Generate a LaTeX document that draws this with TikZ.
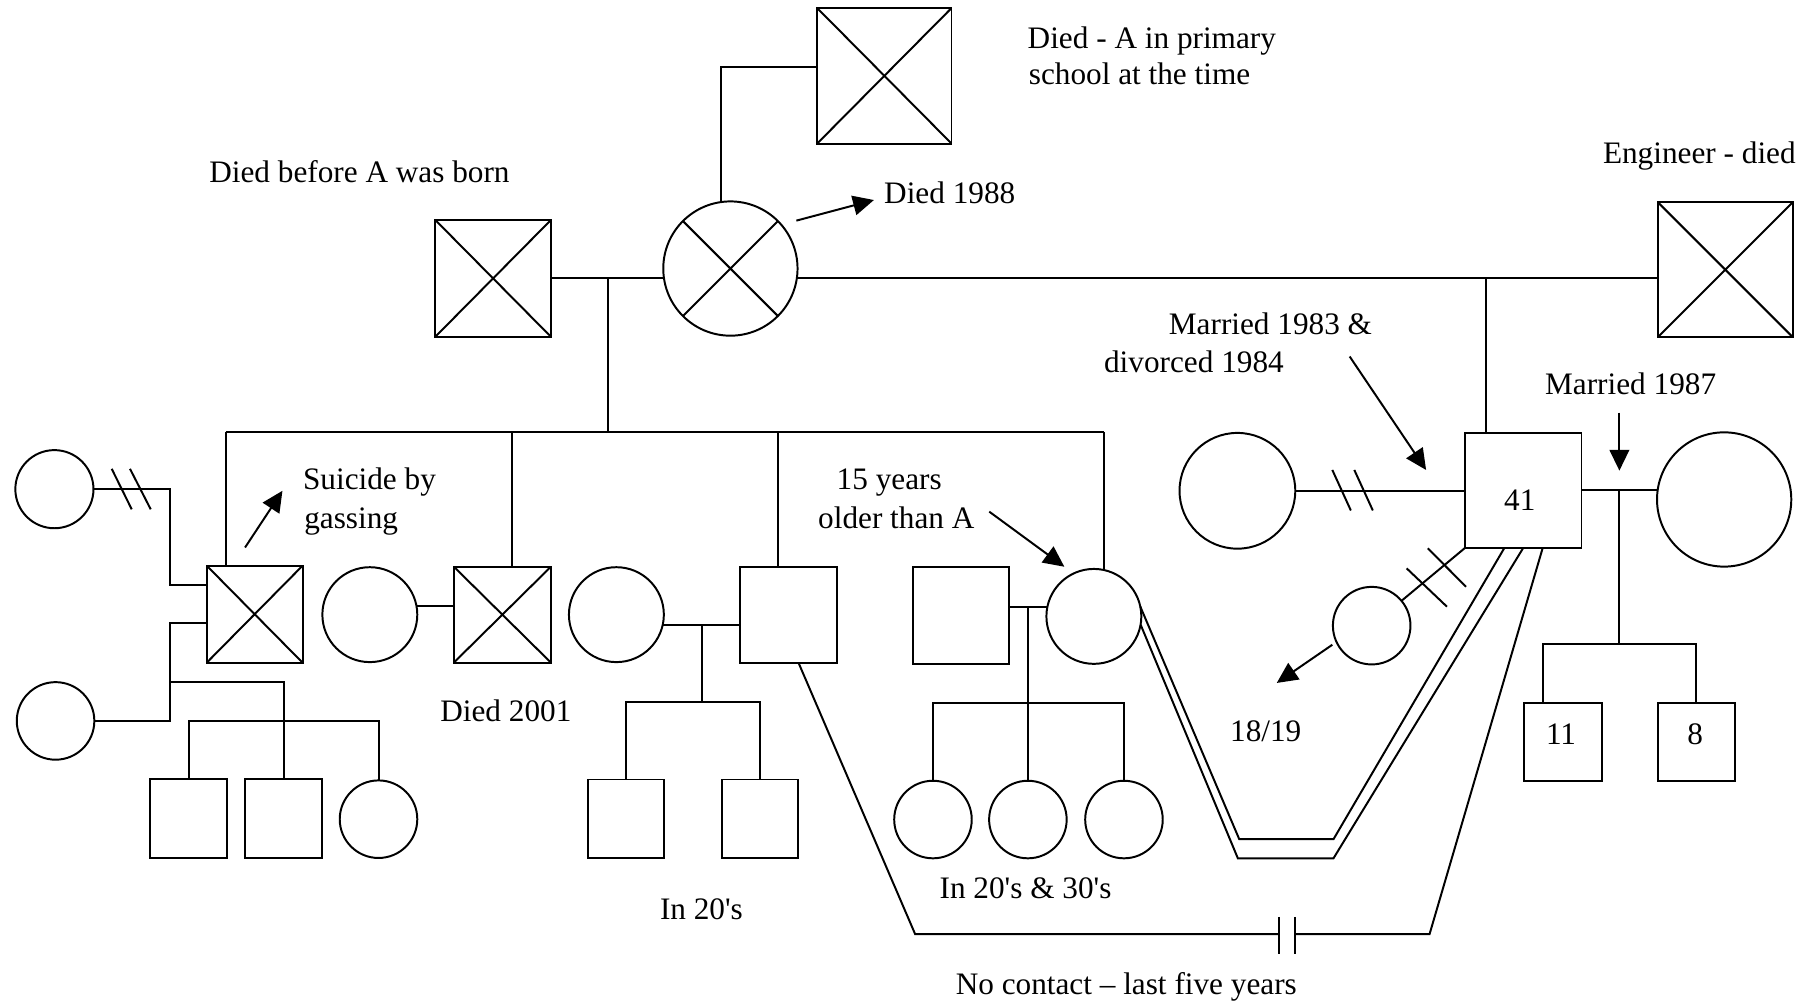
\documentclass[tikz,border=0pt]{standalone}
\usepackage{fontspec}
\newfontfamily\lserif{Liberation Serif}
\usetikzlibrary{calc,arrows.meta}
\begin{document}
\begin{tikzpicture}[x=0.5pt,y=-0.5pt, line width=0.85pt,
  every node/.style={font=\lserif\fontsize{13.5pt}{16pt}\selectfont},
  sq/.style={draw, rectangle, inner sep=0pt, outer sep=0pt},
  crc/.style={draw, circle, inner sep=0pt, outer sep=0pt},
  xed/.style={path picture={\draw (path picture bounding box.south west) -- (path picture bounding box.north east) (path picture bounding box.north west) -- (path picture bounding box.south east);}},
  txt/.style={inner sep=0pt, anchor=base west},
  ctxt/.style={inner sep=0pt, anchor=base},
  arr/.style={-{Triangle[length=9pt,width=8.5pt]}},
]
\useasboundingbox (0,0) rectangle (1568,867);

% ---------- generation 1 ----------
\node[sq,xed,minimum width=58pt,minimum height=58.5pt] (ggf) at (764,65.5) {};
\node[sq,xed,minimum width=50pt,minimum height=50.5pt] (gf) at (426,240.5) {};
\node[crc,minimum size=58pt] (gm) at (631,232) {};
\draw (gm.45) -- (gm.225) (gm.135) -- (gm.-45);
\node[sq,xed,minimum width=58.5pt,minimum height=58.5pt] (eng) at (1490.5,233) {};

% ---------- generation 2 ----------
\node[sq,xed,minimum width=41.5pt,minimum height=42pt] (s1) at (220,530.6) {};
\node[crc,minimum size=41pt] (w2) at (319.5,531) {};
\node[sq,xed,minimum width=42pt,minimum height=41.5pt] (s2) at (434,531) {};
\node[crc,minimum size=41pt] (w3) at (532.5,531) {};
\node[sq,minimum width=42pt,minimum height=41.5pt] (s3) at (681,531) {};
\node[sq,minimum width=41.5pt,minimum height=42pt] (h4) at (830.4,532) {};
\node[crc,minimum size=41pt] (sis) at (945,532.5) {};
\node[crc,minimum size=33.75pt] (tl) at (47,422.6) {};
\node[crc,minimum size=33.5pt] (bl) at (48,622.8) {};
\node[crc,minimum size=50pt] (ex) at (1069,424) {};
\node[sq,minimum width=50.25pt,minimum height=49.75pt] (m41) at (1316,423.5) {};
\node[crc,minimum size=58pt] (w41) at (1489.5,431.5) {};

% ---------- generation 3 ----------
\node[sq,minimum width=33pt,minimum height=34pt] (c1) at (163,707) {};
\node[sq,minimum width=33pt,minimum height=34pt] (c2) at (245,707) {};
\node[crc,minimum size=33.5pt] (c3) at (327,707.7) {};
\node[sq,minimum width=32.75pt,minimum height=34pt] (d1) at (541,707.4) {};
\node[sq,minimum width=32.75pt,minimum height=34pt] (d2) at (656.7,707.4) {};
\node[crc,minimum size=33.5pt] (g1) at (806,708) {};
\node[crc,minimum size=33.5pt] (g2) at (888,708) {};
\node[crc,minimum size=33.5pt] (g3) at (971,708) {};
\node[crc,minimum size=33.5pt] (dau) at (1185,540.5) {};
\node[sq,minimum width=33.5pt,minimum height=33.75pt] (k11) at (1350.5,641) {};
\node[sq,minimum width=33.5pt,minimum height=33.75pt] (k8) at (1465.5,641) {};

% ---------- connectors: top ----------
\coordinate (gmtop) at (622.6,174.6);
\coordinate (ggfL) at (706,58);
\draw (gmtop) |- (ggfL);
\draw (gf.east) -- (gf.east -| gm.west);
\draw (gf.east -| gm.east) -- (gf.east -| eng.west);
\coordinate (pc) at (525,240.5);
\coordinate (sibL) at (195,373);
\coordinate (sibR) at (953.5,373);
\coordinate (v2) at (442.4,373);
\coordinate (v3) at (672,373);
\draw (pc) -- (pc |- sibL);
\draw (sibL) -- (sibR);
\draw (sibL) -- (sibL |- s1.north);
\draw (v2) -- (v2 |- s2.north);
\draw (v3) -- (v3 |- s3.north);
\draw (sibR) -- (sibR |- sis.north);
\coordinate (engj) at (1284,240.5);
\draw (engj) -- (engj |- m41.north);

% ---------- left family ----------
\coordinate (ja1) at (146.5,505.4);
\coordinate (ja2) at (146.9,538.5);
\draw (tl.east) -- (tl.east -| ja1) -- (ja1) -- (ja1 -| s1.west);
\draw (ja2 -| s1.west) -- (ja2) |- (bl.east);
\draw (96.5,405) -- (113.8,440) (112.3,405) -- (130.2,440);
\coordinate (cj1) at (146.9,589.5);
\draw (cj1) -- (cj1 -| c2.north) -- (c2.north);
\coordinate (cj2) at (163,623);
\draw (c1.north) -- (cj2) -- (cj2 -| c3.north) -- (c3.north);

\draw (w2.11) -- (w2.11 -| s2.west);
\draw (w3.-13) -- (w3.-13 -| s3.west);
\coordinate (dj) at (606.3,540.5);
\coordinate (djb) at (606.3,606.8);
\draw (dj) -- (djb);
\draw (d1.north) -- (d1.north |- djb) -- (d2.north |- djb) -- (d2.north);

\draw (sis.168 -| h4.east) -- (sis.168);
\coordinate (gj) at (888,524);
\coordinate (gjb) at (888,607);
\draw (gj) -- (g2.north);
\draw (g1.north) -- (g1.north |- gjb) -- (g3.north |- gjb) -- (g3.north);

% ---------- right family ----------
\draw (ex.east) -- (ex.east -| m41.west);
\draw (1151,406) -- (1167,441) (1170,406) -- (1186,441);
\draw (m41.east) -- (m41.east -| w41.west);
\coordinate (mj) at (1398.7,423.5);
\coordinate (kbar) at (1398.7,556);
\coordinate (kL) at (1333,556);
\draw (mj) -- (kbar);
\draw (kL |- k11.north) -- (kL) -- (kbar -| k8.north) -- (k8.north);
\draw (dau) -- (m41.south west);
\draw (1215.2,491) -- (1250,524.1) (1233.5,473.7) -- (1266.5,506.9);

% double line sister -- 41
\coordinate (ia) at (1070.6,725);
\coordinate (ib) at (1152,725);
\coordinate (oa) at (1069.4,741.5);
\coordinate (ob) at (1152,741.5);
\draw (sis.12) -- (ia) -- (ib) -- ($(m41.south west)!0.338!(m41.south east)$);
\draw (sis.-10) -- (oa) -- (ob) -- (m41.south);

% no contact line
\coordinate (nc1) at (790.6,807);
\coordinate (nc2) at (1105,807);
\coordinate (nc3) at (1119,807);
\coordinate (nc4) at (1235,807);
\draw ($(s3.south east)!0.395!(s3.south west)$) -- (nc1) -- (nc2);
\draw (nc3) -- (nc4) -- ($(m41.south west)!0.667!(m41.south east)$);
\draw (1105,792) -- (1105,824) (1119,792) -- (1119,824);

% ---------- annotation arrows ----------
\coordinate (a1s) at (688,190.6); \coordinate (a1e) at (755,172.8);
\coordinate (a2s) at (211.7,473); \coordinate (a2e) at (244,424);
\coordinate (a3s) at (854.6,442); \coordinate (a3e) at (919.5,489.6);
\coordinate (a4s) at (1166,308); \coordinate (a4e) at (1232,406);
\coordinate (a5s) at (1399,356.5); \coordinate (a5e) at (1399,406.6);
\coordinate (a6s) at (1151,557); \coordinate (a6e) at (1103,590);
\draw[arr] (a1s) -- (a1e);
\draw[arr] (a2s) -- (a2e);
\draw[arr] (a3s) -- (a3e);
\draw[arr] (a4s) -- (a4e);
\draw[arr] (a5s) -- (a5e);
\draw[arr] (a6s) -- (a6e);

% ---------- texts ----------
\node[txt] (tA1) at (887,41.8) {Died - A in primary};
\node[txt] (tA2) at (888,73.4) {school at the time};
\node[txt] (tDB) at (180,157.8) {Died before A was born};
\node[txt] (t88) at (763,175.7) {Died 1988};
\node[txt] (tEng) at (1384,141) {Engineer - died};
\node[txt] (tM1) at (1009,289.4) {Married 1983 \&};
\node[txt] (tM2) at (953,321.5) {divorced 1984};
\node[txt] (tM87) at (1334,341) {Married 1987};
\node[txt] (tS1) at (261,422.8) {Suicide by};
\node[txt] (tS2) at (262,456.4) {gassing};
\node[ctxt] (t01) at (437,623.5) {Died 2001};
\node[txt] (t15a) at (722,423.3) {15 years};
\node[txt] (t15b) at (706,456.4) {older than A};
\node[ctxt] (t20) at (606,794) {In 20's};
\node[ctxt] (t2030) at (886,776) {In 20's \& 30's};
\node[ctxt] (t1819) at (1093.5,640.8) {18/19};
\node[ctxt] (tNC) at (973,859) {No contact – last five years};
\node[ctxt] (t41) at (1313,440.6) {41};
\node[ctxt] (t11) at (1348.6,642.8) {11};
\node[ctxt] (t8) at (1464.4,642.8) {8};
\end{tikzpicture}
\end{document}
